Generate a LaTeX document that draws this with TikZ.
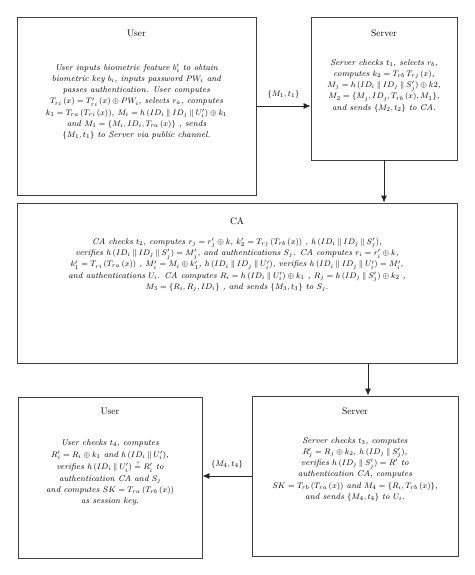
\documentclass[tikz,border=0pt]{standalone}
\usepackage{amsmath}
\usepackage{tikz}
\usetikzlibrary{arrows.meta,positioning,calc}

\newcommand{\catop}{\mathbin{\|}}
\newcommand{\qeq}{\mathrel{\overset{\scriptscriptstyle ?}{=}}}

\begin{document}
\begin{tikzpicture}[
    x=1pt, y=1pt,
    box/.style={rectangle, draw=black!75, line width=0.8pt},
    title/.style={inner sep=0pt, font=\fontsize{9.5}{11}\selectfont},
    body/.style={inner sep=0pt, align=center, font=\fontsize{8.4}{11.3}\selectfont\itshape},
    msg/.style={inner sep=0pt, font=\fontsize{8.4}{10}\selectfont\itshape},
    arrow/.style={-{Latex[length=7pt,width=6pt]}, draw=black!85, line width=0.8pt}
]
    \useasboundingbox (0,0) rectangle (474,-575);

    % boxes
    \node[box, minimum width=239pt, minimum height=178pt] (user1) at (136.5,-106) {};
    \node[box, minimum width=146pt, minimum height=143pt] (server1) at (384,-88.5) {};
    \node[box, minimum width=440pt, minimum height=160pt] (ca) at (237,-283) {};
    \node[box, minimum width=184pt, minimum height=161pt] (user2) at (110,-477.5) {};
    \node[box, minimum width=206pt, minimum height=160pt] (server2) at (355,-476) {};
    \coordinate (s2in) at ($(server2.north)+(13,0)$);

    % titles
    \node[title, below=13pt of user1.north] (user1title) {User};
    \node[title, below=13pt of server1.north] (server1title) {Server};
    \node[title, below=15pt of ca.north] (catitle) {CA};
    \node[title, below=11pt of user2.north] (user2title) {User};
    \node[title, below=12pt of server2.north] (server2title) {Server};

    % texts
    \node[body, below=27pt of user1title] (user1text) {User inputs biometric feature $b_i'$ to obtain\\
        biometric key $b_i$, inputs password $PW_i$ and\\
        passes authentication. User computes\\
        $T_{ri}\,(x) = T'_{ri}\,(x) \oplus PW_i$, selects $r_a$, computes\\
        $k_1 = T_{ra}\,(T_{ri}\,(x))$, $M_i = h\,(ID_i \catop ID_j \catop U_i') \oplus k_1$\\
        and $M_1 = \{M_i, ID_i, T_{ra}\,(x)\}$ , sends\\
        $\{M_1, t_1\}$ to Server via public channel.};
    \node[body, below=22pt of server1title] (server1text) {Server checks $t_1$, selects $r_b$,\\
        computes $k_2 = T_{rb}\,T_{rj}\,(x)$,\\
        $M_j = h\,(ID_i \catop ID_j \catop S_j') \oplus k2$,\\
        $M_2 = \{M_j, ID_j, T_{rb}\,(x), M_1\}$,\\
        and sends $\{M_2, t_2\}$ to CA.};
    \node[body, below=13pt of catitle] (catext) {CA checks $t_2$, computes $r_j = r_j' \oplus k$, $k_2' = T_{rj}\,(T_{rb}\,(x))$ , $h\,(ID_i \catop ID_j \catop S_j')$,\\
        verifies $h\,(ID_i \catop ID_j \catop S_j') = M_j'$, and authentications $S_j$. CA computes $r_i = r_i' \oplus k$,\\
        $k_1' = T_{ri}\,(T_{ra}\,(x))$ , $M_i' = M_i \oplus k_1'$, $h\,(ID_i \catop ID_j \catop U_i')$, verifies $h\,(ID_i \catop ID_j \catop U_i') = M_i'$,\\
        and authentications $U_i$. CA computes $R_i = h\,(ID_i \catop U_i') \oplus k_1$ , $R_j = h\,(ID_j \catop S_j') \oplus k_2$ ,\\
        $M_3 = \{R_i, R_j, ID_i\}$ , and sends $\{M_3, t_3\}$ to $S_j$.};
    \node[body, below=25pt of user2title] (user2text) {User checks $t_4$, computes\\
        $R_i' = R_i \oplus k_1$ and $h\,(ID_i \catop U_i')$,\\
        verifies $h\,(ID_i \catop U_i') \qeq R_i'$ to\\
        authentication CA and $S_j$\\
        and computes $SK = T_{ra}\,(T_{rb}\,(x))$\\
        as session key.};
    \node[body, below=22pt of server2title] (server2text) {Server checks $t_3$, computes\\
        $R_j' = R_j \oplus k_2$, $h\,(ID_j \catop S_j')$,\\
        verifies $h\,(ID_j \catop S_j') = R'$ to\\
        authentication CA, computes\\
        $SK = T_{rb}\,(T_{ra}\,(x))$ and $M_4 = \{R_i, T_{rb}\,(x)\}$,\\
        and sends $\{M_4, t_4\}$ to $U_i$.};

    % connectors
    \draw[arrow] (user1.east) -- (user1.east -| server1.west)
        node[msg, midway, above=7pt] (m1) {$\{M_1, t_1\}$};
    \draw[arrow] (server1.south) -- (server1.south |- ca.north);
    \draw[arrow] (s2in |- ca.south) -- (s2in);
    \draw[arrow] (server2.west) -- (server2.west -| user2.east)
        node[msg, midway, above=7pt] (m4) {$\{M_4, t_4\}$};
\end{tikzpicture}
\end{document}
